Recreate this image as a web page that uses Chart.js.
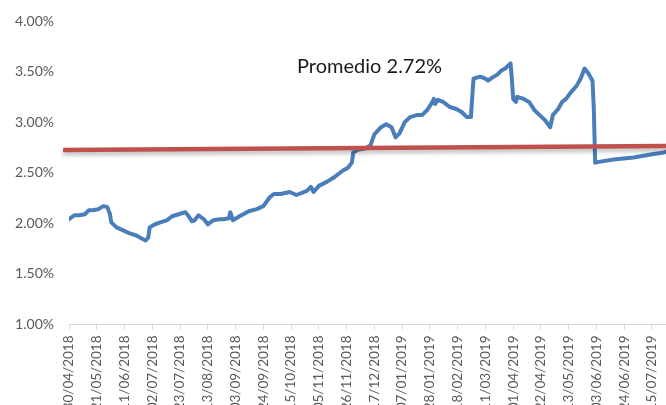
<!DOCTYPE html>
<html><head><meta charset="utf-8">
<script src="https://cdn.jsdelivr.net/npm/chart.js@4.4.1/dist/chart.umd.min.js"></script>
<style>html,body{margin:0;padding:0;background:#fff;overflow:hidden;width:666px;height:405px}canvas{display:block}</style>
</head><body>
<canvas id="c" width="666" height="430"></canvas>
<script>
// Tick labels on the date axis (one every 21 days, starting 30/04/2018 = day 0)
const xTickLabels = ['30/04/2018','21/05/2018','11/06/2018','02/07/2018','23/07/2018','13/08/2018','03/09/2018','24/09/2018','15/10/2018','05/11/2018','26/11/2018','17/12/2018','07/01/2019','28/01/2019','18/02/2019','11/03/2019','01/04/2019','22/04/2019','13/05/2019','03/06/2019','24/06/2019','15/07/2019'];
const tickStepDays = 21;
const lastDay = 451.6;

// Rate series: day offset from 30/04/2018 and rate (%)
const days = [0,4,8,12,15,18,22,26,29,31,32,36,41,46,51,55,58,60,61,65,69,74,78,83,88,90,93,95,98,102,105,109,114,117,121,122,124,129,136,142,147,152,155,160,167,172,180,183,185,189,195,200,204,207,211,214,215,219,224,228,231,236,240,244,247,250,254,258,263,267,271,274,276,277,279,283,288,293,297,301,304,306,311,315,317,320,324,327,330,334,335,336,338,339,344,348,352,356,360,364,366,370,373,376,380,384,387,390,393,396,397,398,402,412,427,440,450,452];
const rates = [2.04,2.08,2.08,2.09,2.13,2.13,2.14,2.17,2.16,2.09,2.01,1.96,1.93,1.90,1.88,1.85,1.83,1.86,1.96,1.99,2.01,2.03,2.07,2.09,2.11,2.08,2.02,2.03,2.08,2.04,1.99,2.03,2.04,2.04,2.05,2.11,2.03,2.07,2.12,2.14,2.17,2.26,2.29,2.29,2.31,2.28,2.32,2.36,2.31,2.37,2.41,2.45,2.49,2.52,2.55,2.60,2.70,2.73,2.74,2.77,2.88,2.95,2.98,2.95,2.85,2.89,3.00,3.05,3.07,3.07,3.12,3.18,3.23,3.18,3.22,3.20,3.15,3.13,3.10,3.05,3.05,3.43,3.45,3.43,3.41,3.44,3.47,3.51,3.53,3.58,3.43,3.23,3.20,3.25,3.23,3.20,3.12,3.07,3.02,2.95,3.07,3.13,3.20,3.23,3.30,3.36,3.43,3.53,3.48,3.41,3.13,2.60,2.61,2.63,2.65,2.68,2.70,2.71];

// Average line (drawn shape) and its label
const averageDays = [-4.5, 456];
const averageRates = [2.725, 2.765];
const averageLabel = 'Promedio 2.72%';
const averageLabelDay = 172.5;
const averageLabelRate = 3.483;

// Y axis ticks (%)
const yTicks = [1.0, 1.5, 2.0, 2.5, 3.0, 3.5, 4.0];

const shadowPlugin = {
  id: 'avgShadow',
  beforeDatasetDraw(chart, args) {
    if (args.index === 0) {
      const c = chart.ctx; c.save();
      c.shadowColor = 'rgba(0,0,0,0.28)'; c.shadowBlur = 4; c.shadowOffsetY = 3;
    }
  },
  afterDatasetDraw(chart, args) { if (args.index === 0) chart.ctx.restore(); }
};

const labelPlugin = {
  id: 'avgLabel',
  afterDraw(chart) {
    const c = chart.ctx; c.save();
    c.font = '20px Lato'; c.fillStyle = '#1a1a1a';
    c.textAlign = 'left'; c.textBaseline = 'alphabetic';
    c.fillText(averageLabel, chart.scales.x.getPixelForValue(averageLabelDay), chart.scales.y.getPixelForValue(averageLabelRate));
    c.restore();
  }
};

new Chart(document.getElementById('c').getContext('2d'), {
  type: 'line',
  data: {
    datasets: [
      { label: 'Promedio', data: averageDays.map((d, i) => ({ x: d, y: averageRates[i] })),
        borderColor: '#c0504d', borderWidth: 4.5, pointRadius: 0, clip: false, tension: 0, borderCapStyle: 'butt' },
      { label: 'Tasa', data: days.map((d, i) => ({ x: d, y: rates[i] })),
        borderColor: '#4a7ebb', borderWidth: 4, pointRadius: 0, tension: 0,
        borderJoinStyle: 'round', borderCapStyle: 'round' }
    ]
  },
  options: {
    responsive: false, animation: false, events: [],
    layout: { padding: { top: 21, left: 0, right: 0, bottom: 0 } },
    plugins: { legend: { display: false }, tooltip: { enabled: false } },
    scales: {
      x: {
        type: 'linear', min: 0, max: lastDay,
        afterBuildTicks: s => { s.ticks = xTickLabels.map((_, i) => ({ value: i * tickStepDays })); },
        afterFit: s => { s.height = 105.5; s.paddingLeft = 0; s.paddingRight = 0; },
        ticks: { autoSkip: false, maxRotation: 90, minRotation: 90, padding: 6, color: '#595959',
          font: { family: 'Lato', size: 13.5 },
          callback: v => xTickLabels[Math.round(v / tickStepDays)] },
        grid: { display: true, drawOnChartArea: false, drawTicks: true, tickLength: 5, color: '#d9d9d9', lineWidth: 1 },
        border: { display: true, color: '#d9d9d9', width: 1 }
      },
      y: {
        min: 1, max: 4,
        afterBuildTicks: s => { s.ticks = yTicks.map(v => ({ value: v })); },
        afterFit: s => { s.width = 69; s.paddingTop = 0; s.paddingBottom = 0; },
        ticks: { padding: 15, color: '#595959', font: { family: 'Lato', size: 14 },
          callback: v => v.toFixed(2) + '%' },
        grid: { display: false, drawTicks: false },
        border: { display: false }
      }
    }
  },
  plugins: [shadowPlugin, labelPlugin]
});
</script>
</body></html>
